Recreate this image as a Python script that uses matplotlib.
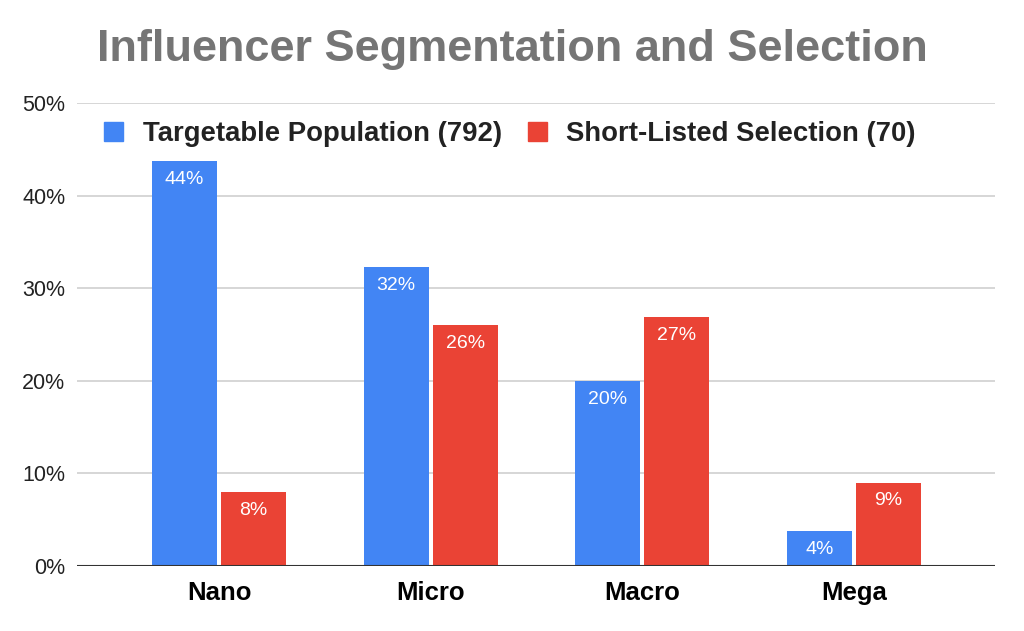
import numpy as np
import matplotlib.pyplot as plt
from matplotlib.patches import Patch

categories = ["Nano", "Micro", "Macro", "Mega"]
targetable = [43.7, 32.3, 20.0, 3.8]
shortlisted = [8.0, 26.0, 26.9, 9.0]
value_labels_t = ["44%", "32%", "20%", "4%"]
value_labels_s = ["8%", "26%", "27%", "9%"]
series_names = ["Targetable Population (792)", "Short-Listed Selection (70)"]

BLUE = "#4285F4"
RED = "#EA4335"

plt.rcParams["font.family"] = ["Liberation Sans", "DejaVu Sans"]

fig = plt.figure(figsize=(10.24, 6.31), dpi=100)
ax = fig.add_axes([77 / 1024, 65 / 631, 918 / 1024, 463 / 631])

x = np.arange(len(categories))
w = 0.307
off = 0.163
b1 = ax.bar(x - off, targetable, w, color=BLUE, zorder=3)
b2 = ax.bar(x + off, shortlisted, w, color=RED, zorder=3)

for bars, labels in ((b1, value_labels_t), (b2, value_labels_s)):
    for bar, lab in zip(bars, labels):
        ax.annotate(lab, xy=(bar.get_x() + bar.get_width() / 2, bar.get_height()),
                    xytext=(0, -7), textcoords="offset points", ha="center", va="top",
                    color="white", fontsize=14, zorder=4)

ax.set_xlim(-0.671, 3.666)
ax.set_ylim(0, 50)
ax.set_yticks([0, 10, 20, 30, 40, 50])
ax.set_yticklabels([f"{v}%" for v in [0, 10, 20, 30, 40, 50]], fontsize=15.5, color="#222222")
ax.set_xticks(x)
ax.set_xticklabels(categories, fontsize=18.5, fontweight="bold", color="black")
ax.tick_params(axis="both", length=0)
ax.tick_params(axis="x", pad=11)
ax.tick_params(axis="y", pad=8.5)
ax.grid(axis="y", color="#d0d0d0", lw=1.2, zorder=0)
ax.axhline(0, color="#333333", lw=1.5, zorder=5)
for s in ax.spines.values():
    s.set_visible(False)

fig.text(0.5, 1 - 50 / 631, "Influencer Segmentation and Selection", ha="center", va="center",
         fontsize=32.5, fontweight="bold", color="#757575")

handles = [Patch(color=BLUE), Patch(color=RED)]
leg = fig.legend(handles, series_names, loc="center", bbox_to_anchor=(510 / 1024, 1 - 134 / 631),
                 ncol=2, frameon=False, handlelength=0.7, handleheight=0.7, handletextpad=0.7,
                 columnspacing=0.95, prop={"size": 19.8, "weight": "bold"})
for t in leg.get_texts():
    t.set_color("#222222")

fig.savefig("out.png", dpi=100)
